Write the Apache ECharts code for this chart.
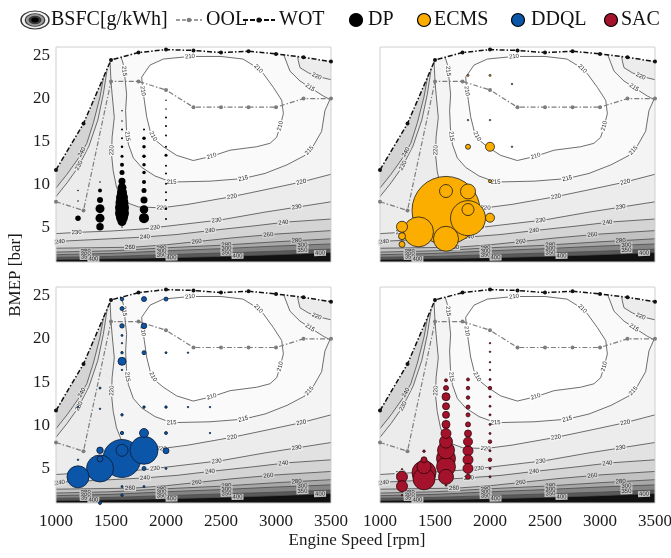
<!DOCTYPE html>
<html>
<head>
<meta charset="utf-8">
<script src="https://cdn.jsdelivr.net/npm/echarts@6/dist/echarts.min.js"></script>
<style>
  html, body { margin: 0; padding: 0; background: #ffffff; }
  #chart { width: 671px; height: 558px; }
</style>
</head>
<body>
<div id="chart"></div>
<script>
// ---- axes ----
const rpmTicks = [1000, 1500, 2000, 2500, 3000, 3500];
const bmepTicks = [5, 10, 15, 20, 25];
const rpmRange = [1000, 3500];
const bmepRange = [1, 26];

// ---- full load curve (WOT) and optimal operating line (OOL) ----
const wotRpm  = [1000, 1250, 1500, 1750, 2000, 2250, 2500, 2750, 3000, 3250, 3500];
const wotBmep = [11.7, 17.1, 24.5, 25.35, 25.7, 25.6, 25.35, 25.5, 25.2, 24.8, 24.3];
const oolRpm  = [1000, 1250, 1500, 1750, 2000, 2250, 2500, 2750, 3000, 3250, 3500];
const oolBmep = [8.0, 7.0, 22.0, 22.0, 21.0, 19.0, 19.0, 19.0, 19.0, 20.0, 20.0];

// ---- BSFC iso-lines [rpm, bmep] ----
const bsfcLevels = [210, 215, 220, 230, 240, 260, 280, 300, 350, 400];
const c210 = [[1779,22.5],[1855,23.9],[1976,24.6],[2218,24.9],[2500,24.9],[2700,24.6],[2839,23.5],[2885,22.9],[2976,21.3],[3052,19.8],[3067,18.25],[3036,16.7],[3006,15.5],[2945,14.8],[2824,14.4],[2582,14.0],[2415,13.3],[2248,12.8],[2097,13.4],[1976,14.4],[1900,15.2],[1855,16.3],[1824,17.9],[1803,19.8],[1788,21.1]];
const c215 = [[1590,24.9],[1612,24.0],[1627,22.4],[1642,20.5],[1633,18.6],[1640,16.6],[1658,14.7],[1703,13.1],[1779,12.0],[1900,11.0],[2050,10.3],[2400,10.4],[2700,10.7],[2900,11.3],[3100,12.3],[3264,13.4],[3339,14.5],[3415,16.2],[3445,18.6],[3490,19.9],[3430,20.3],[3309,21.3],[3218,22.05],[3127,23.2],[3067,25.2]];
const c220 = [[1490,24.6],[1500,22.0],[1510,20.5],[1530,17.8],[1510,15.5],[1505,13.5],[1520,11.6],[1550,9.7],[1600,8.1],[1750,7.4],[1960,7.3],[2200,7.7],[2600,8.6],[2900,9.4],[3230,10.3],[3500,11.2]];
const c220corner = [[3195,25.0],[3203,24.4],[3218,23.6],[3294,23.0],[3370,22.6],[3500,22.2]];
const c230 = [[1000,4.3],[1200,4.45],[1500,4.6],[1800,4.85],[2100,5.3],[2500,5.9],[2900,6.8],[3200,7.4],[3500,8.0]];
const c230upper = [[1000,8.6],[1100,10.2],[1200,12.0],[1300,14.5],[1380,17.5],[1430,20.5],[1460,23.0],[1475,24.6]];
const c240 = [[1000,3.3],[1100,3.45],[1500,3.7],[1800,3.9],[2100,4.2],[2400,4.65],[2800,5.2],[3100,5.65],[3500,6.0]];
const c240upper = [[1000,9.6],[1100,11.2],[1200,13.0],[1280,14.8],[1340,17.2],[1400,20.2],[1440,23.0],[1455,24.5]];
const c260 = [[1000,2.6],[1300,2.65],[1700,2.72],[2000,3.0],[2300,3.4],[2600,3.8],[3000,4.25],[3500,4.65]];
const c280 = [[1000,2.15],[1500,2.3],[2000,2.65],[2500,2.95],[3000,3.35],[3500,3.7]];
const c300 = [[1000,1.85],[1500,2.0],[2000,2.3],[2500,2.55],[3000,2.85],[3500,3.1]];
const c350 = [[1000,1.55],[1500,1.65],[2000,1.85],[2500,2.05],[3000,2.25],[3500,2.5]];
const c400 = [[1000,1.3],[1500,1.38],[2000,1.5],[2500,1.65],[3000,1.85],[3500,2.1]];

// where each iso-line carries its value label [rpm, bmep, level]
const bsfcLabelSpots = [
  [2218,24.9,210],[2840,23.5,210],[3040,16.8,210],[2415,13.3,210],[1880,15.6,210],[1790,20.9,210],
  [1615,23.2,215],[1635,15.6,215],[2051,10.3,215],[2703,10.7,215],[3300,14.0,215],[3309,21.3,215],
  [1505,14.0,220],[1960,7.3,220],[2600,8.6,220],[3230,10.3,220],[3370,22.6,220],
  [1188,4.4,230],[1900,4.95,230],[2460,5.85,230],[3188,7.4,230],[1210,12.2,230],
  [1036,3.35,240],[1809,3.9,240],[2400,4.65,240],[3067,5.6,240],[1230,13.8,240],
  [1673,2.72,260],[2279,3.35,260],[2930,4.2,260],
  [1270,2.2,280],[1960,2.6,280],[2550,3.0,280],[3188,3.5,280],
  [1270,1.9,300],[1960,2.25,300],[2550,2.6,300],[3240,2.95,300],
  [1270,1.6,350],[1960,1.85,350],[2550,2.05,350],[3240,2.35,350],
  [1340,1.35,400],[2050,1.5,400],[2650,1.7,400],[3400,2.05,400]
];

// ---- visited operating points per strategy [rpm, bmep, occurrences] ----
const dpPoints = [
  [1200,6.1,30],[1200,8.1,2.25],[1200,9.3,2.25],
  [1400,5.1,56],[1400,6.1,81],[1400,7.2,81],[1400,8.2,36],[1400,9.3,16],[1400,10.3,2.25],
  [1600,18.6,2.25],[1600,17.4,2.25],[1600,16.4,4],[1600,15.4,4],[1600,14.4,6.25],[1600,13.3,9],[1600,12.3,16],[1600,11.4,25],
  [1600,10.4,49],[1600,9.65,81],[1600,9.07,100],[1600,8.5,144],[1600,7.9,169],[1600,7.3,196],[1600,6.7,196],[1600,6.2,144],[1600,5.7,81],[1600,5.07,2.25],
  [1800,16.4,4],[1800,15.4,12.25],[1800,14.4,12.25],[1800,13.3,12.25],[1800,12.3,12.25],[1800,11.4,12.25],[1800,10.3,16],[1800,9.3,25],[1800,8.2,49],[1800,7.1,72],[1800,6.1,100],
  [2000,19.8,2.25],[2000,18.8,2.25],[2000,17.8,4],[2000,16.8,4],[2000,15.7,4],[2000,14.4,4],[2000,13.4,9],[2000,12.2,4],[2000,11.3,4],[2000,10.1,4],[2000,9.1,4],[2000,8.2,4],[2000,7.2,6.25],[2000,6.0,4]
];
const ecmsPoints = [
  [1600,7.0,4624],[1350,4.5,900],[1600,3.7,625],[1800,6.1,1225],[1800,7.1,144],[1600,9.25,169],[1800,9.2,225],[2000,6.15,81],
  [1200,5.1,121],[1200,4.0,49],[1200,3.05,36],[1800,14.4,25],[2000,14.4,81],[2000,10.4,9],
  [1800,22.7,4],[2000,22.7,4],[2200,21.7,2.25],[1800,17.5,2.25],[2000,17.5,2.25],[2200,14.4,2.25]
];
const ddqlPoints = [
  [1200,4.03,484],[1400,5.0,729],[1600,6.15,1444],[1600,7.1,144],[1800,7.1,784],[1800,9.1,81],[1400,7.1,42],[1400,6.1,36],[2000,7.05,36],
  [1600,9.1,11],[2000,9.1,9],[2400,9.1,2.25],[1800,5.0,16],[2000,5.0,4],[1600,2.9,4],[1800,2.9,4],[1600,1.9,6.25],[1400,1.0,9],
  [1200,6.0,2.25],[1200,12.1,2.25],[1400,14.3,4],[1400,11.9,2.25],
  [1600,24.6,12.25],[1600,23.5,16],[1600,21.5,20],[1600,20.4,4],[1600,19.5,2.25],[1600,18.4,6.25],[1600,17.4,64],[1600,16.4,2.25],[1600,11.2,6.25],
  [1800,24.6,25],[1800,21.5,30],[1800,18.4,16],[1800,12.1,6.25],
  [2000,24.6,16],[2000,18.4,4],[2000,12.1,6.25],[2200,18.4,2.25],[2200,12.1,2.25],[2400,12.1,2.25]
];
const sacPoints = [
  [1200,4.03,121],[1200,2.95,121],[1200,4.9,2.25],[1200,1.9,2.25],
  [1400,7.0,6.25],[1400,6.0,36],[1400,5.2,196],[1400,4.5,576],[1400,3.8,484],
  [1600,15.2,9],[1600,14.3,25],[1600,13.3,64],[1600,12.2,49],[1600,11.2,49],[1600,10.1,64],[1600,9.05,100],[1600,8.1,169],[1600,7.1,289],[1600,6.15,361],[1600,5.2,361],[1600,4.03,225],[1600,3.06,4],
  [1800,15.3,9],[1800,14.3,12.25],[1800,13.2,12.25],[1800,12.1,16],[1800,11.2,16],[1800,10.1,25],[1800,9.05,49],[1800,8.1,81],[1800,7.04,100],[1800,6.0,100],[1800,5.0,100],[1800,4.03,25],
  [2000,19.5,2.25],[2000,18.5,2.25],[2000,17.3,2.25],[2000,16.4,2.25],[2000,15.3,4],[2000,14.3,12.25],[2000,13.3,4],[2000,12.2,4],[2000,11.2,4],[2000,10.1,4],[2000,9.05,4],[2000,8.1,12.25],[2000,7.04,4],[2000,6.0,12.25],[2000,5.0,4],[2000,4.03,4]
];

// ---- styling ----
const serif = '"Liberation Serif", "DejaVu Serif", serif';
const bandFill = ['#ffffff', '#fafafa', '#f4f4f4', '#ececec', '#e2e2e2', '#d4d4d4', '#c2c2c2', '#a8a8a8', '#858585', '#5a5a5a'];
const bandFillTop = '#111111';
const strategies = [
  { name: 'DP',   data: dpPoints,   color: '#000000', border: '#000000', bw: 0 },
  { name: 'ECMS', data: ecmsPoints, color: '#FBAE00', border: '#1a1a1a', bw: 0.8 },
  { name: 'DDQL', data: ddqlPoints, color: '#0B56A8', border: '#0a1a33', bw: 0.8 },
  { name: 'SAC',  data: sacPoints,  color: '#A5122B', border: '#2a0509', bw: 0.8 }
];
const panels = [
  { left: 56,  top: 47,  width: 275, height: 215, xLabels: false, yLabels: true  },
  { left: 380, top: 47,  width: 275, height: 215, xLabels: false, yLabels: false },
  { left: 56,  top: 287, width: 275, height: 216, xLabels: true,  yLabels: true  },
  { left: 380, top: 287, width: 275, height: 216, xLabels: true,  yLabels: false }
];

const isoBranches = {
  210: [c210], 215: [c215], 220: [c220, c220corner], 230: [c230, c230upper],
  240: [c240, c240upper], 260: [c260], 280: [c280], 300: [c300], 350: [c350], 400: [c400]
};

const last = a => a[a.length - 1];
// region of the map with BSFC below the given level
function regionBelow(level) {
  const T = bmepRange[1], R = rpmRange[1], L = rpmRange[0];
  switch (level) {
    case 210: return c210;
    case 215: return [...c215, [last(c215)[0], T], [c215[0][0], T]];
    case 220: return [[c220[0][0], T], ...c220, ...c220corner.slice().reverse(), [c220corner[0][0], T]];
    case 230: return [...c230, [R, T], [last(c230upper)[0], T], ...c230upper.slice().reverse()];
    case 240: return [...c240, [R, T], [last(c240upper)[0], T], ...c240upper.slice().reverse()];
    default:  return [...isoBranches[level][0], [R, T], [L, T]];
  }
}

function drawBsfcMap(params, api) {
  const px = p => api.coord(p);
  const kids = [];
  const corners = [[rpmRange[0], bmepRange[0]], [rpmRange[1], bmepRange[0]], [rpmRange[1], bmepRange[1]], [rpmRange[0], bmepRange[1]]];
  kids.push({ type: 'polygon', shape: { points: corners.map(px) }, style: { fill: bandFillTop } });
  for (let i = bsfcLevels.length - 1; i >= 0; i--) {
    kids.push({ type: 'polygon', shape: { points: regionBelow(bsfcLevels[i]).map(px) }, style: { fill: bandFill[i] } });
  }
  bsfcLevels.forEach(lv => {
    isoBranches[lv].forEach(br => {
      const pts = br.map(px);
      if (lv === 210) pts.push(pts[0]);
      kids.push({ type: 'polyline', shape: { points: pts }, style: { stroke: '#4a4a4a', lineWidth: 0.8, fill: null } });
    });
  });
  // value labels sit on the nearest iso-line segment, turned along it
  bsfcLabelSpots.forEach(([r, b, lv]) => {
    const target = px([r, b]);
    let best = null;
    isoBranches[lv].forEach(br => {
      const pts = br.map(px);
      if (lv === 210) pts.push(pts[0]);
      for (let k = 0; k < pts.length - 1; k++) {
        const a = pts[k], c = pts[k + 1];
        const dx = c[0] - a[0], dy = c[1] - a[1];
        const len2 = dx * dx + dy * dy || 1;
        let t = ((target[0] - a[0]) * dx + (target[1] - a[1]) * dy) / len2;
        t = Math.max(0, Math.min(1, t));
        const qx = a[0] + t * dx, qy = a[1] + t * dy;
        const d = (qx - target[0]) ** 2 + (qy - target[1]) ** 2;
        if (!best || d < best.d) best = { d, x: qx, y: qy, ang: Math.atan2(dy, dx) };
      }
    });
    let rot = -best.ang;
    if (rot > Math.PI / 2) rot -= Math.PI;
    if (rot < -Math.PI / 2) rot += Math.PI;
    const idx = bsfcLevels.indexOf(lv);
    kids.push({
      type: 'text', x: best.x, y: best.y, rotation: rot,
      style: {
        text: String(lv), font: '6px "Liberation Sans", sans-serif', fill: '#2a2a2a',
        align: 'center', verticalAlign: 'middle',
        backgroundColor: idx >= 7 ? '#c4c4c4' : bandFill[idx], padding: [0, 1]
      }
    });
  });
  // nothing is mapped beyond the full load curve
  const beyond = wotRpm.map((r, i) => [r, wotBmep[i]]).concat([[rpmRange[1], bmepRange[1]], [rpmRange[0], bmepRange[1]]]);
  kids.push({ type: 'polygon', shape: { points: beyond.map(px) }, style: { fill: '#ffffff' } });
  const tl = px([rpmRange[0], bmepRange[1]]), br = px([rpmRange[1], bmepRange[0]]);
  kids.push({ type: 'rect', shape: { x: tl[0], y: tl[1], width: br[0] - tl[0], height: br[1] - tl[1] },
              style: { fill: null, stroke: '#cfcfcf', lineWidth: 1 } });
  return { type: 'group', children: kids };
}

const wotData = wotRpm.map((r, i) => [r, wotBmep[i]]);
const oolData = oolRpm.map((r, i) => [r, oolBmep[i]]);
const dashDot = [5, 2, 1.5, 2];

const grid = [], xAxis = [], yAxis = [], series = [];
panels.forEach((p, g) => {
  grid.push({ left: p.left, top: p.top, width: p.width, height: p.height, containLabel: false, outerBoundsMode: 'none' });
  xAxis.push({
    type: 'value', gridIndex: g, min: rpmRange[0], max: rpmRange[1], interval: 500,
    axisLine: { show: false }, axisTick: { show: false }, splitLine: { show: false },
    axisLabel: { show: p.xLabels, customValues: rpmTicks, formatter: v => String(v),
                 margin: 10, fontSize: 17, fontFamily: serif, color: '#1a1a1a' }
  });
  yAxis.push({
    type: 'value', gridIndex: g, min: bmepRange[0], max: bmepRange[1],
    axisLine: { show: false }, axisTick: { show: false }, splitLine: { show: false },
    axisLabel: { show: p.yLabels, customValues: bmepTicks, formatter: v => String(v),
                 margin: 6, fontSize: 17, fontFamily: serif, color: '#1a1a1a' }
  });
  series.push({
    type: 'custom', xAxisIndex: g, yAxisIndex: g, data: [[rpmRange[0], bmepRange[0]]],
    renderItem: drawBsfcMap, silent: true, z: 1, animation: false
  });
  series.push({
    type: 'line', xAxisIndex: g, yAxisIndex: g, data: oolData, symbol: 'circle', symbolSize: 4,
    lineStyle: { color: '#7d7d7d', width: 1.2, type: dashDot }, itemStyle: { color: '#7d7d7d' },
    silent: true, z: 2, animation: false
  });
  series.push({
    type: 'line', xAxisIndex: g, yAxisIndex: g, data: wotData, symbol: 'circle', symbolSize: 4,
    lineStyle: { color: '#111111', width: 1.5, type: dashDot }, itemStyle: { color: '#111111' },
    silent: true, z: 2, animation: false
  });
  const s = strategies[g];
  series.push({
    type: 'scatter', name: s.name, xAxisIndex: g, yAxisIndex: g,
    data: s.data.slice().sort((a, b) => b[2] - a[2]),
    symbolSize: v => Math.sqrt(v[2]),
    itemStyle: { color: s.color, borderColor: s.border, borderWidth: s.bw, opacity: 1 },
    silent: true, z: 3, animation: false
  });
});

// ---- legend row and axis titles ----
const ly = 20;
const legendFont = '20px ' + serif;
const graphic = [
  { type: 'circle', x: 35, y: ly, scaleX: 1.55, shape: { cx: 0, cy: 0, r: 9 }, style: { fill: '#f2f2f2', stroke: '#333', lineWidth: 1 } },
  { type: 'circle', x: 35, y: ly, scaleX: 1.55, shape: { cx: 0, cy: 0, r: 6.3 }, style: { fill: '#9a9a9a', stroke: '#333', lineWidth: 0.8 } },
  { type: 'circle', x: 35, y: ly, scaleX: 1.55, shape: { cx: 0, cy: 0, r: 4.2 }, style: { fill: '#3a3a3a' } },
  { type: 'circle', x: 35, y: ly, scaleX: 1.55, shape: { cx: 0, cy: 0, r: 2.4 }, style: { fill: '#000' } },
  { type: 'text', x: 51, y: ly, style: { text: 'BSFC[g/kWh]', font: legendFont, fill: '#111', verticalAlign: 'middle' } },
  { type: 'line', shape: { x1: 176, y1: ly, x2: 202, y2: ly }, style: { stroke: '#7d7d7d', lineWidth: 1.4, lineDash: [4, 2] } },
  { type: 'circle', shape: { cx: 189, cy: ly, r: 2.3 }, style: { fill: '#7d7d7d' } },
  { type: 'text', x: 206, y: ly, style: { text: 'OOL', font: legendFont, fill: '#111', verticalAlign: 'middle' } },
  { type: 'line', shape: { x1: 243, y1: ly, x2: 275, y2: ly }, style: { stroke: '#111', lineWidth: 1.8, lineDash: [5, 2] } },
  { type: 'circle', shape: { cx: 259, cy: ly, r: 2.6 }, style: { fill: '#111' } },
  { type: 'text', x: 279, y: ly, style: { text: 'WOT', font: legendFont, fill: '#111', verticalAlign: 'middle' } },
  { type: 'text', x: 16, y: 275, rotation: Math.PI / 2,
    style: { text: 'BMEP [bar]', font: '17px ' + serif, fill: '#1a1a1a', align: 'center', verticalAlign: 'middle' } },
  { type: 'text', x: 357, y: 541,
    style: { text: 'Engine Speed [rpm]', font: '17px ' + serif, fill: '#1a1a1a', align: 'center', verticalAlign: 'middle' } }
];
const legendDots = [356, 424, 518, 611];
const legendText = [368, 434, 531, 621];
strategies.forEach((s, i) => {
  graphic.push({ type: 'circle', shape: { cx: legendDots[i], cy: ly, r: 6.5 }, style: { fill: s.color, stroke: '#000', lineWidth: 1.2 } });
  graphic.push({ type: 'text', x: legendText[i], y: ly, style: { text: s.name, font: legendFont, fill: '#111', verticalAlign: 'middle' } });
});

const chart = echarts.init(document.getElementById('chart'), null, { renderer: 'canvas' });
chart.setOption({
  animation: false,
  backgroundColor: '#ffffff',
  grid, xAxis, yAxis, series, graphic
});
</script>
</body>
</html>
